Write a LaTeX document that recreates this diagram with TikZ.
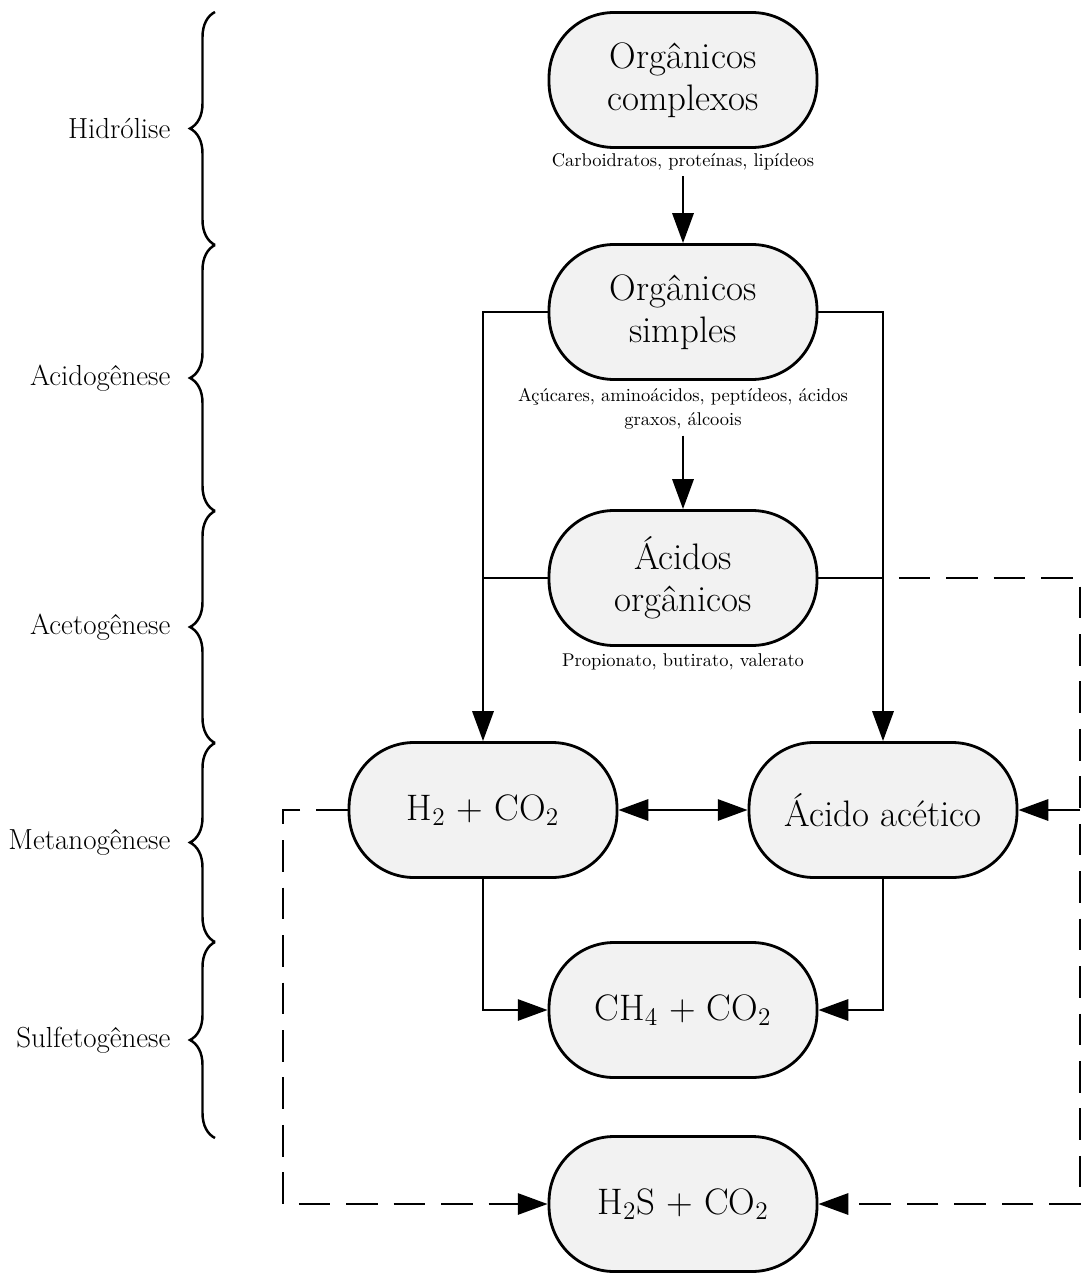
\documentclass[tikz,border=0pt]{standalone}
\usepackage{fontspec}
\usepackage{xcolor}
\usepackage{tikz}
\usetikzlibrary{arrows.meta, decorations.pathreplacing}
\definecolor{boxfill}{HTML}{F2F2F2}

\begin{document}
\begin{tikzpicture}[x=0.02cm, y=-0.02cm,
    etapa/.style={draw, line width=1.6pt, fill=boxfill, rounded corners=1.3cm,
        minimum width=5.36cm, minimum height=2.7cm, align=center,
        font=\fontsize{21}{24}\selectfont},
    desc/.style={align=center, font=\fontsize{10.5}{13.7}\selectfont},
    linha/.style={line width=1.6pt},
    seta/.style={line width=1.6pt, -{Triangle[length=17pt, width=12pt]}},
    setadupla/.style={line width=1.6pt, {Triangle[length=17pt, width=12pt]}-{Triangle[length=17pt, width=12pt]}},
    tracejado/.style={dash pattern=on 18pt off 9pt},
    chave/.style={decorate, decoration={brace, amplitude=0.5cm}, line width=1.4pt},
    fase/.style={left, xshift=-0.75cm, font=\fontsize{16.5}{18}\selectfont}]
    \useasboundingbox (0,0) rectangle (1084,1273);

    % Stages (braces on the left)
    \draw[chave] (215,245) -- (215,12) node[midway, fase] (hidrolise) {Hidrólise};
    \draw[chave] (215,511) -- (215,245) node[midway, fase] (acidogenese) {Acidogênese};
    \draw[chave] (215,743) -- (215,511) node[midway, fase] (acetogenese) {Acetogênese};
    \draw[chave] (215,942) -- (215,743) node[midway, fase] (metanogenese) {Metanogênese};
    \draw[chave] (215,1138) -- (215,942) node[midway, fase] (sulfetogenese) {Sulfetogênese};

    % Boxes
    \node[etapa] (complexos) at (683,80) {Orgânicos\\complexos};
    \node[desc] (desccomplexos) at (683,162) {Carboidratos, proteínas, lipídeos};
    \node[etapa] (simples) at (683,312) {Orgânicos\\simples};
    \node[desc] (descsimples) at (683,409) {Açúcares, aminoácidos, peptídeos, ácidos\\graxos, álcoois};
    \node[etapa] (acidos) at (683,578) {Ácidos\\orgânicos};
    \node[desc] (descacidos) at (683,662) {Propionato, butirato, valerato};
    \node[etapa] (hidrogenio) at (483,810) {H$_2$ + CO$_2$};
    \node[etapa] (acetico) at (883,810) {Ácido acético};
    \node[etapa] (metano) at (683,1010) {CH$_4$ + CO$_2$};
    \node[etapa] (sulfeto) at (683,1204) {H$_2$S + CO$_2$};

    % Main flow
    \draw[seta] (desccomplexos) -- (simples);
    \draw[seta] (descsimples) -- (acidos);
    \draw[seta] (simples.west) -| (hidrogenio.north);
    \draw[seta] (simples.east) -| (acetico.north);
    \draw[linha] (acidos.west) -- (acidos.west -| hidrogenio.north);
    \draw[linha] (acidos.east) -- (acidos.east -| acetico.north);
    \draw[setadupla] (hidrogenio) -- (acetico);
    \draw[seta] (hidrogenio.south) |- (metano.west);
    \draw[seta] (acetico.south) |- (metano.east);

    % Sulfate reduction (dashed)
    \coordinate (dirtopo) at (1080,578);
    \coordinate (esq) at (283,810);
    \draw[seta, tracejado, dash phase=18pt] (acidos.east -| acetico.north) -- (dirtopo) |- (sulfeto.east);
    \draw[seta, tracejado] (dirtopo |- acetico.east) -- (acetico.east);
    \draw[seta, tracejado] (hidrogenio.west) -- (esq) |- (sulfeto.west);
\end{tikzpicture}
\end{document}
